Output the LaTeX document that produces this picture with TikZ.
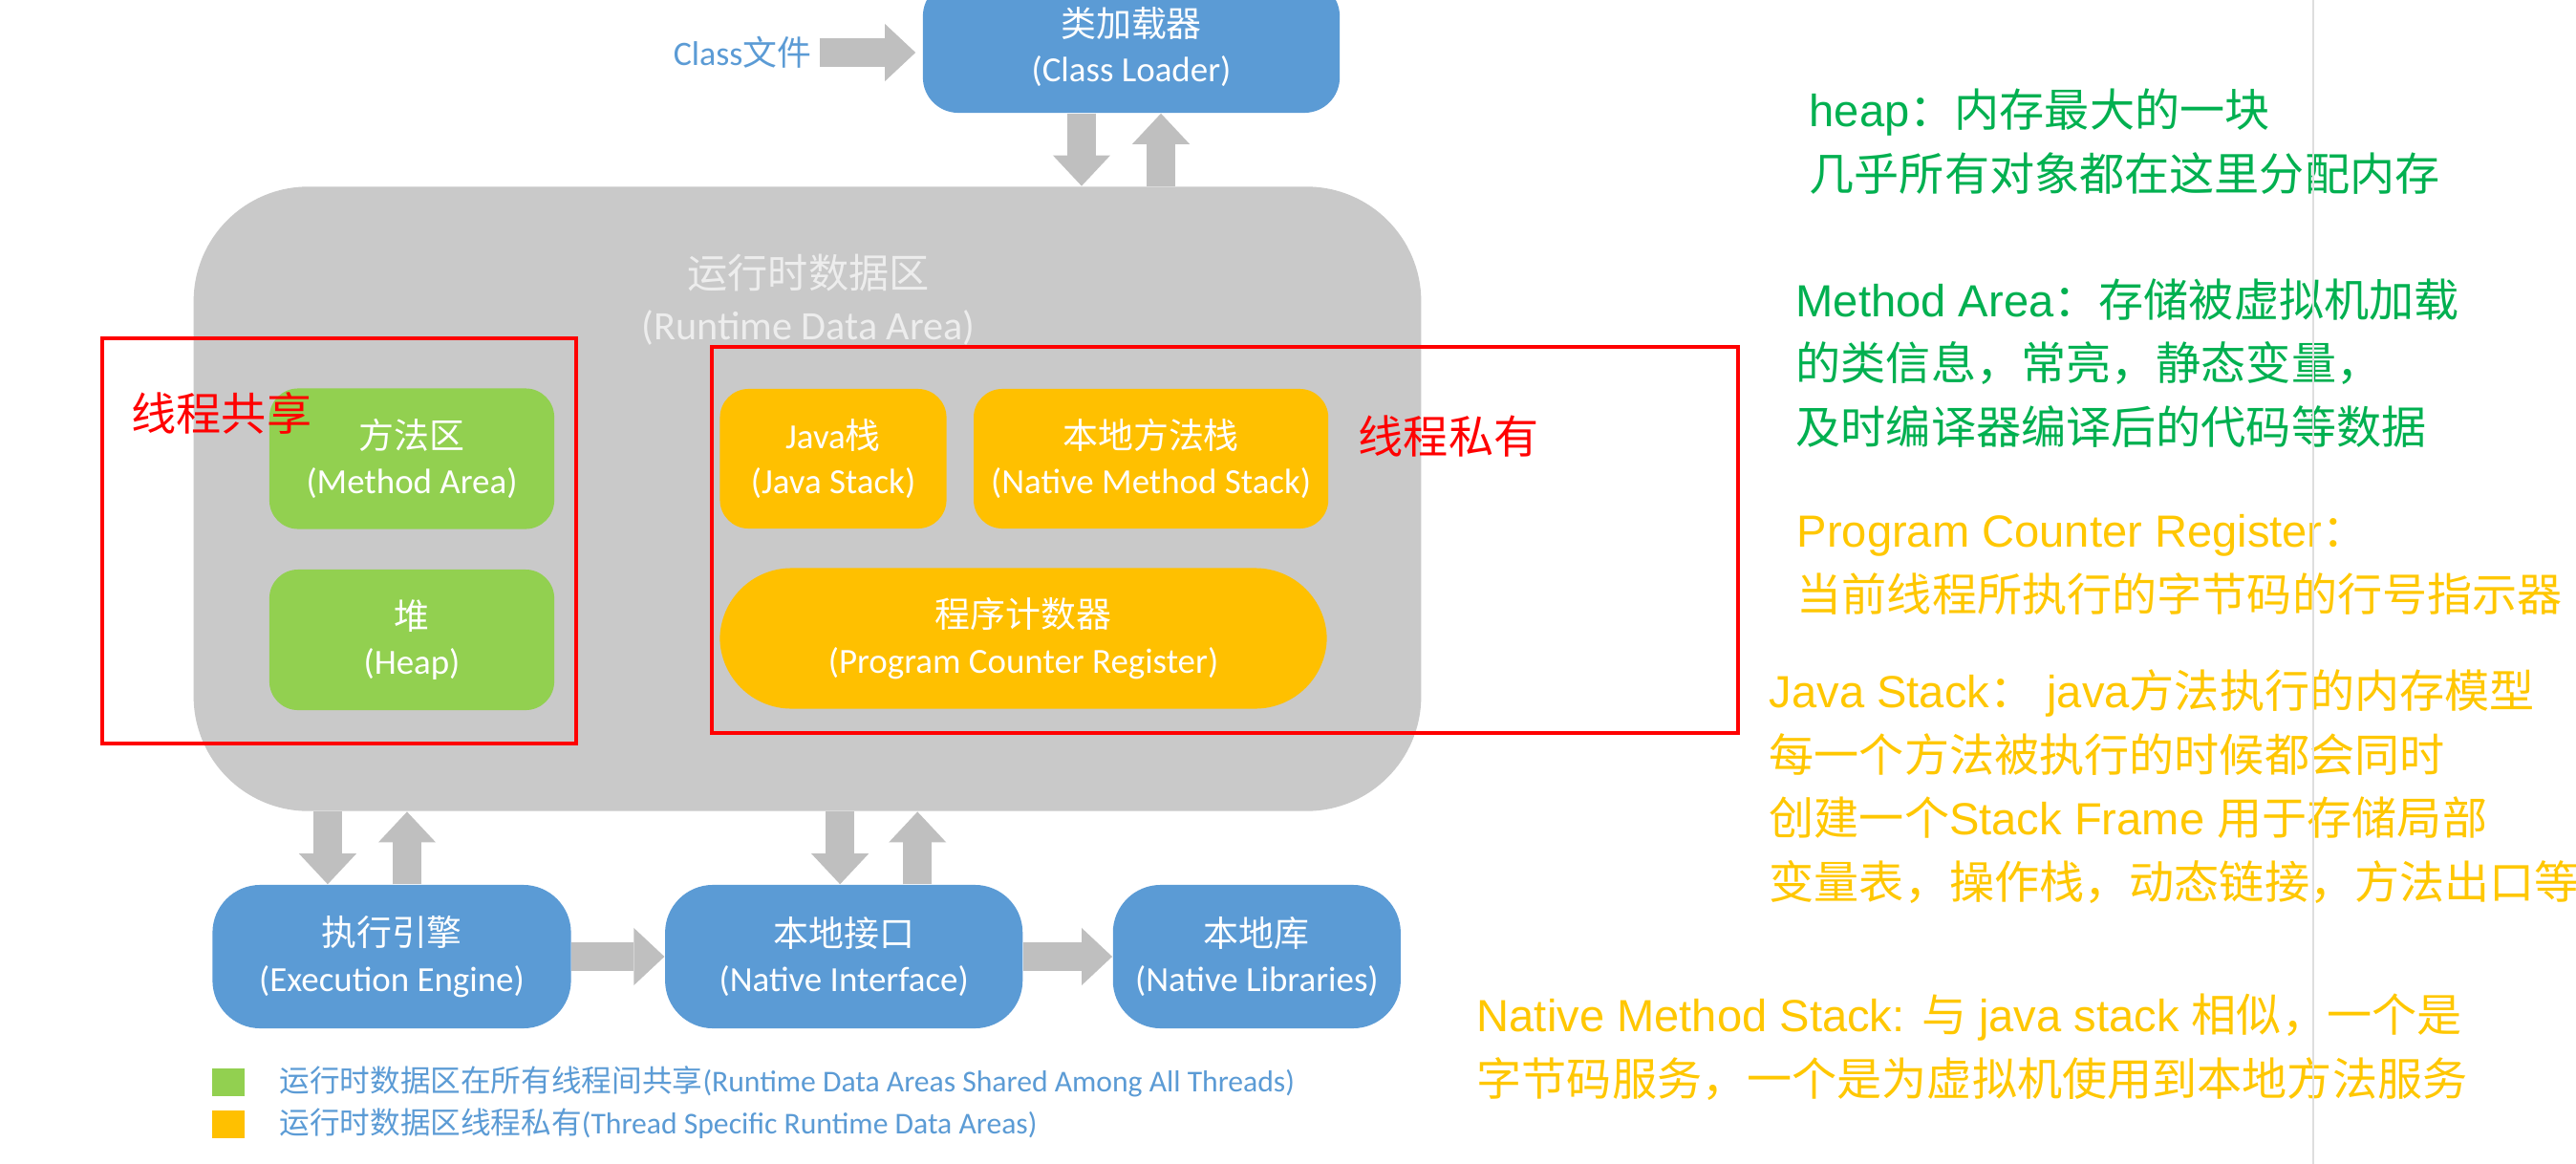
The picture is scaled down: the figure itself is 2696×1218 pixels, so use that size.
\documentclass[tikz,border=0pt]{standalone}
\usepackage{fontspec}
\setmainfont{Carlito}
\newfontfamily\cjk{Noto Sans CJK SC}
\newfontfamily\hv{Liberation Sans}
\usepackage{xcolor}
\usetikzlibrary{arrows.meta, positioning}
\definecolor{jblue}{HTML}{5B9BD5}
\definecolor{jgreen}{HTML}{92D050}
\definecolor{jorange}{HTML}{FFC000}
\definecolor{jgray}{HTML}{C9C9C9}
\definecolor{agray}{HTML}{BFBFBF}
\definecolor{ngreen}{HTML}{00B050}
\definecolor{nyellow}{HTML}{FFC700}
\tikzset{
  blk/.style  = {fill=jblue, text=white, rounded corners=0.45cm, align=center,
                 inner sep=0pt, font=\fontsize{10.5}{13.6}\selectfont},
  shr/.style  = {fill=jgreen, text=white, rounded corners=0.3cm, align=center,
                 inner sep=0pt, font=\fontsize{10.5}{13.6}\selectfont},
  prv/.style  = {fill=jorange, text=white, rounded corners=0.3cm, align=center,
                 inner sep=0pt, font=\fontsize{10.5}{13.6}\selectfont},
  rda/.style  = {fill=jgray, rounded corners=1.2cm, inner sep=0pt},
  rbox/.style = {draw=red, line width=0.035cm, inner sep=0pt},
  lbl/.style  = {text=red, inner sep=0pt, font=\cjk\fontsize{13.4}{16}\selectfont},
  nt/.style   = {anchor=west, align=left, inner sep=0pt,
                 font=\hv\fontsize{13.4}{19}\selectfont},
  lg/.style   = {minimum width=0.34cm, minimum height=0.29cm, inner sep=0pt},
  lgt/.style  = {anchor=west, text=jblue, inner sep=0pt, font=\fontsize{9}{11}\selectfont},
  fl/.style   = {draw=agray, line width=0.3cm,
                 -{Triangle[length=0.32cm, width=0.6cm, line width=0pt]}},
}
\begin{document}
\begin{tikzpicture}[x=0.01cm, y=-0.01cm]
  \fill[white] (0,0) rectangle (2696,1218);
  \useasboundingbox (0,0) rectangle (2696,1218);

  % class loader
  \node[text=jblue, inner sep=0.08cm, font=\fontsize{10.2}{12}\selectfont] (cls) at (777,55) {Class{\cjk 文件}};
  \node[blk, minimum width=4.36cm, minimum height=1.38cm, rounded corners=0.37cm] (loader) at (1184,49)
       {{\cjk 类加载器}\\(Class Loader)};

  % runtime data area
  \node[rda, minimum width=12.84cm, minimum height=6.53cm] (rda) at (845,522) {};
  \node[text=white!93!black, align=center, inner sep=0pt, font=\fontsize{12}{15.3}\selectfont] (rdat) at (846,314)
       {{\cjk 运行时数据区}\\(Runtime Data Area)};
  \node[shr, minimum width=2.98cm, minimum height=1.47cm] (ma) at (431,480) {{\cjk 方法区}\\(Method Area)};
  \node[shr, minimum width=2.98cm, minimum height=1.47cm, below=0.41cm of ma] (heap) {{\cjk 堆}\\(Heap)};
  \node[prv, minimum width=2.37cm, minimum height=1.46cm] (js) at (872,480) {Java{\cjk 栈}\\(Java Stack)};
  \node[prv, minimum width=3.71cm, minimum height=1.46cm, right=0.27cm of js] (nms) {{\cjk 本地方法栈}\\(Native Method Stack)};
  \node[prv, minimum width=6.35cm, minimum height=1.47cm, rounded corners=0.75cm] (pc) at (1071,668)
       {{\cjk 程序计数器}\\(Program Counter Register)};

  % red frames
  \node[rbox, minimum width=4.96cm, minimum height=4.24cm] (shrbox) at (355,566) {};
  \node[rbox, minimum width=10.73cm, minimum height=4.04cm] (prvbox) at (1282,565) {};
  \node[lbl] (shrl) at (232,432) {线程共享};
  \node[lbl] (prvl) at (1516,457) {线程私有};

  % engine and native side
  \node[blk, minimum width=3.75cm, minimum height=1.5cm, rounded corners=0.5cm] (ee) at (410,1001)
       {{\cjk 执行引擎}\\(Execution Engine)};
  \node[blk, minimum width=3.74cm, minimum height=1.5cm, rounded corners=0.5cm, right=0.97cm of ee] (ni)
       {{\cjk 本地接口}\\(Native Interface)};
  \node[blk, minimum width=3.01cm, minimum height=1.5cm, rounded corners=0.5cm, right=0.93cm of ni] (nl)
       {{\cjk 本地库}\\(Native Libraries)};

  \draw[fl, shorten >=0.07cm] (cls.east) -- (cls.east -| loader.west);
  \draw[fl] ([xshift=-0.52cm]loader.south) -- ([xshift=-0.52cm]loader.south |- rda.north);
  \draw[fl] ([xshift=0.31cm]loader.south |- rda.north) -- ([xshift=0.31cm]loader.south);
  \draw[fl] ([xshift=-0.67cm]ee.north |- rda.south) -- ([xshift=-0.67cm]ee.north);
  \draw[fl] ([xshift=0.16cm]ee.north) -- ([xshift=0.16cm]ee.north |- rda.south);
  \draw[fl] ([xshift=-0.04cm]ni.north |- rda.south) -- ([xshift=-0.04cm]ni.north);
  \draw[fl] ([xshift=0.77cm]ni.north) -- ([xshift=0.77cm]ni.north |- rda.south);
  \draw[fl] (ee) -- (ni);
  \draw[fl] (ni) -- (nl);

  % legend
  \node[lg, fill=jgreen] (lg1) at (239,1132) {};
  \node[lg, fill=jorange] (lg2) at (239,1176) {};
  \node[lgt, right=0.35cm of lg1] (lt1)
       {{\cjk 运行时数据区在所有线程间共享}(Runtime Data Areas Shared Among All Threads)};
  \node[lgt, right=0.35cm of lg2] (lt2)
       {{\cjk 运行时数据区线程私有}(Thread Specific Runtime Data Areas)};

  % notes
  \node[nt, text=ngreen] (nheap) at (1893,148)
       {heap{\cjk ：内存最大的一块}\\{\cjk 几乎所有对象都在这里分配内存}};
  \node[nt, text=ngreen] (nma) at (1879,380)
       {Method Area{\cjk ：存储被虚拟机加载}\\{\cjk 的类信息，常亮，静态变量，}\\{\cjk 及时编译器编译后的代码等数据}};
  \node[nt, text=nyellow] (npc) at (1880,591)
       {Program Counter Register{\cjk ：}\\{\cjk 当前线程所执行的字节码的行号指示器}};
  \node[nt, text=nyellow] (njs) at (1851,823)
       {Java Stack{\cjk ：} java{\cjk 方法执行的内存模型}\\{\cjk 每一个方法被执行的时候都会同时}\\{\cjk 创建一个}Stack Frame {\cjk 用于存储局部}\\{\cjk 变量表，操作栈，动态链接，方法出口等}};
  \node[nt, text=nyellow] (nnms) at (1545,1096)
       {Native Method Stack: {\cjk 与} java stack {\cjk 相似，一个是}\\{\cjk 字节码服务，一个是为虚拟机使用到本地方法服务}};

  \draw[black!13, line width=0.02cm] (2421,0) -- (2421,1218);
\end{tikzpicture}
\end{document}
